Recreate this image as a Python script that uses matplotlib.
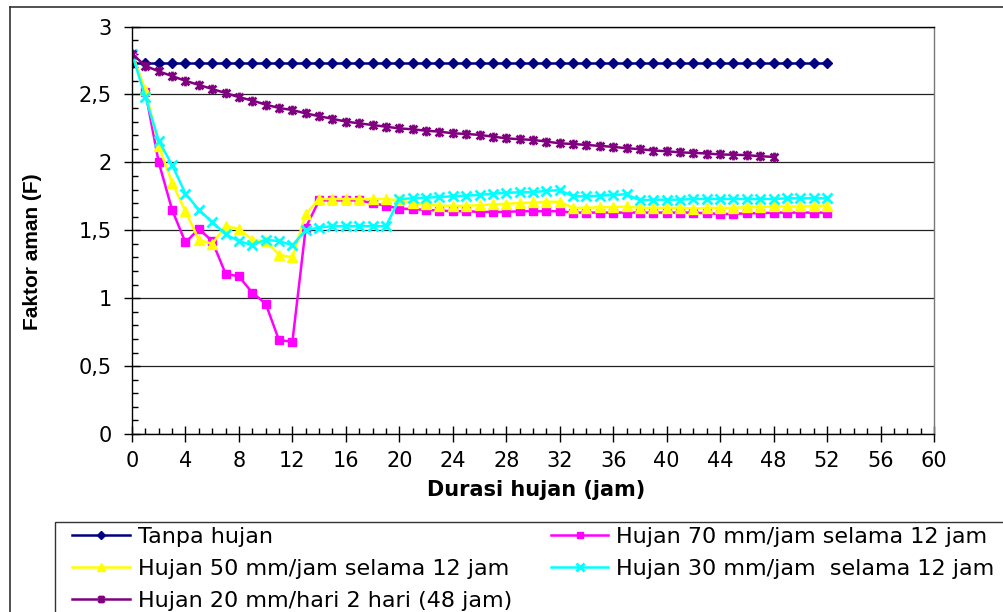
import matplotlib
matplotlib.use("Agg")
import matplotlib.pyplot as plt
from matplotlib.lines import Line2D
from matplotlib.patches import Rectangle
from matplotlib.path import Path
from matplotlib.ticker import MultipleLocator, FixedLocator

plt.rcParams['font.family'] = ['DejaVu Sans']

# durasi (jam)
jam = list(range(0, 53))
jam48 = list(range(0, 49))

tanpa_hujan = [2.73, 2.73, 2.73, 2.73, 2.73, 2.73, 2.73, 2.73, 2.73, 2.73,
               2.73, 2.73, 2.73, 2.73, 2.73, 2.73, 2.73, 2.73, 2.73, 2.73,
               2.73, 2.73, 2.73, 2.73, 2.73, 2.73, 2.73, 2.73, 2.73, 2.73,
               2.73, 2.73, 2.73, 2.73, 2.73, 2.73, 2.73, 2.73, 2.73, 2.73,
               2.73, 2.73, 2.73, 2.73, 2.73, 2.73, 2.73, 2.73, 2.73, 2.73,
               2.73, 2.73, 2.73]

hujan70 = [2.80, 2.52, 2.00, 1.65, 1.41, 1.51, 1.42, 1.18, 1.16, 1.04,
           0.96, 0.69, 0.68, 1.52, 1.72, 1.72, 1.72, 1.72, 1.70, 1.68,
           1.66, 1.655, 1.65, 1.645, 1.64, 1.64, 1.635, 1.635, 1.635, 1.64,
           1.64, 1.64, 1.64, 1.63, 1.63, 1.63, 1.63, 1.63, 1.63, 1.63,
           1.63, 1.63, 1.63, 1.625, 1.62, 1.62, 1.625, 1.625, 1.63, 1.63,
           1.63, 1.63, 1.63]

hujan50 = [2.80, 2.53, 2.12, 1.85, 1.64, 1.43, 1.40, 1.53, 1.51, 1.43,
           1.42, 1.32, 1.30, 1.62, 1.73, 1.73, 1.73, 1.73, 1.73, 1.73,
           1.72, 1.70, 1.69, 1.68, 1.68, 1.68, 1.685, 1.69, 1.695, 1.70,
           1.705, 1.71, 1.71, 1.665, 1.665, 1.67, 1.67, 1.675, 1.665, 1.665,
           1.665, 1.665, 1.66, 1.665, 1.665, 1.665, 1.67, 1.67, 1.675, 1.675,
           1.675, 1.68, 1.68]

hujan30 = [2.80, 2.48, 2.16, 1.98, 1.77, 1.65, 1.56, 1.47, 1.42, 1.39,
           1.43, 1.42, 1.39, 1.50, 1.52, 1.53, 1.53, 1.53, 1.53, 1.53,
           1.73, 1.735, 1.74, 1.745, 1.75, 1.755, 1.76, 1.77, 1.775, 1.78,
           1.78, 1.79, 1.795, 1.75, 1.75, 1.755, 1.76, 1.765, 1.72, 1.725,
           1.725, 1.725, 1.73, 1.73, 1.73, 1.73, 1.73, 1.73, 1.73, 1.735,
           1.735, 1.735, 1.735]

hujan20 = [2.80, 2.71, 2.67, 2.635, 2.60, 2.57, 2.54, 2.51, 2.48, 2.455,
           2.425, 2.40, 2.385, 2.36, 2.34, 2.32, 2.30, 2.287, 2.275, 2.262,
           2.25, 2.243, 2.233, 2.226, 2.214, 2.209, 2.202, 2.189, 2.177, 2.17,
           2.165, 2.153, 2.14, 2.135, 2.128, 2.121, 2.114, 2.104, 2.097, 2.087,
           2.082, 2.073, 2.07, 2.065, 2.058, 2.056, 2.053, 2.045, 2.04]

label_tanpa = "Tanpa hujan"
label70 = "Hujan 70 mm/jam selama 12 jam"
label50 = "Hujan 50 mm/jam selama 12 jam"
label30 = "Hujan 30 mm/jam  selama 12 jam"
label20 = "Hujan 20 mm/hari 2 hari (48 jam)"

yticks = [0, 0.5, 1, 1.5, 2, 2.5, 3]
ytick_labels = ["0", "0,5", "1", "1,5", "2", "2,5", "3"]
xticks = list(range(0, 61, 4))

# bintang ala excel: X + garis tegak
star = Path([(-1, -1), (1, 1), (-1, 1), (1, -1), (0, -1.25), (0, 1.25)],
            [Path.MOVETO, Path.LINETO] * 3)

W, H = 1004, 612
fig = plt.figure(figsize=(W / 100, H / 100), dpi=100)
ax = fig.add_axes([132 / W, 1 - 434 / H, 802 / W, 407.5 / H])

lw = 1.8
l1, = ax.plot(jam, tanpa_hujan, color="#000080", lw=lw, marker="D", ms=5.5,
              mec="#000080", mfc="#000080", label=label_tanpa)
l2, = ax.plot(jam, hujan70, color="#FF00FF", lw=lw, marker="s", ms=5.5,
              mec="#FF00FF", mfc="#FF00FF", label=label70)
l3, = ax.plot(jam, hujan50, color="#FFFF00", lw=lw, marker="^", ms=7.5,
              mec="#FFFF00", mfc="#FFFF00", label=label50)
l4, = ax.plot(jam, hujan30, color="#00FFFF", lw=lw, marker="x", ms=6.5,
              mew=2, mec="#00FFFF", label=label30)
l5, = ax.plot(jam48, hujan20, color="#800080", lw=lw, marker=star, ms=7,
              mew=2, mec="#800080", label=label20)

ax.set_xlim(0, 60)
ax.set_ylim(0, 3)
ax.yaxis.set_major_locator(FixedLocator(yticks))
ax.set_yticklabels(ytick_labels)
ax.yaxis.set_minor_locator(MultipleLocator(0.1))
ax.xaxis.set_major_locator(FixedLocator(xticks))
ax.xaxis.set_minor_locator(MultipleLocator(1))

ax.grid(axis="y", which="major", color="#222222", lw=0.9)
ax.set_axisbelow(True)

ax.tick_params(axis="both", which="major", direction="inout", length=11,
               width=1, labelsize=15, color="black")
ax.tick_params(axis="y", which="major", pad=9)
ax.tick_params(axis="x", which="major", pad=7)
ax.tick_params(axis="both", which="minor", direction="in", length=4, width=1)

for s in ["left", "bottom", "top"]:
    ax.spines[s].set_color("black")
    ax.spines[s].set_linewidth(1)
ax.spines["right"].set_color("#777777")
ax.spines["right"].set_linewidth(1)

ax.set_xlabel("Durasi hujan (jam)", fontsize=15, fontweight="bold")
ax.xaxis.set_label_coords(0.504, -0.114)
ax.set_ylabel("Faktor aman (F)", fontsize=15, fontweight="bold",
              family=["Liberation Sans", "DejaVu Sans"])
ax.yaxis.set_label_coords(-0.112, 0.448)

leg = fig.legend([l1, l3, l5, l2, l4],
                 [label_tanpa, label50, label20, label70, label30],
                 loc="upper left", bbox_to_anchor=(72 / W, 1 - 527 / H),
                 ncol=2, frameon=False, fontsize=16, borderpad=0,
                 borderaxespad=0, handlelength=2.6, handletextpad=0.35,
                 labelspacing=0.53, columnspacing=1.75, markerscale=0.8)

# bingkai figure dan bingkai legenda (terpotong di kanan / bawah)
fig.add_artist(Line2D([10 / W, 10 / W], [0, 1 - 7 / H], transform=fig.transFigure,
                      color="#333333", lw=1.2))
fig.add_artist(Line2D([10 / W, 1], [1 - 7 / H, 1 - 7 / H], transform=fig.transFigure,
                      color="#333333", lw=1.2))
fig.add_artist(Rectangle((55.5 / W, -0.05), 1.0, 1 - 521.5 / H + 0.05,
                         transform=fig.transFigure, fill=False,
                         ec="#333333", lw=1))

fig.savefig("out.png", dpi=100)
